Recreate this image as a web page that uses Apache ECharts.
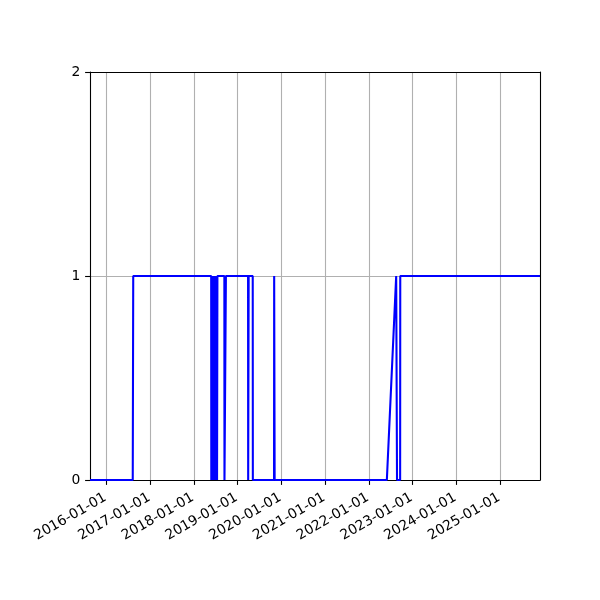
<!DOCTYPE html>
<html><head><meta charset="utf-8">
<script src="https://cdn.jsdelivr.net/npm/echarts@6/dist/echarts.min.js"></script>
<style>html,body{margin:0;padding:0;background:#fff}#c{width:600px;height:600px}</style>
</head><body><div id="c"></div>
<script>
const dates = [
  '2015-08-18','2016-08-09','2016-08-13',
  '2018-05-26','2018-05-27','2018-05-30','2018-06-02','2018-06-05','2018-06-08','2018-06-11','2018-06-14',
  '2018-06-17','2018-06-20','2018-06-23','2018-06-26','2018-06-29','2018-07-02','2018-07-05','2018-07-08',
  '2018-07-11','2018-07-14','2018-07-17','2018-07-20',
  '2018-09-13','2018-09-14','2018-09-25','2018-09-26',
  '2019-03-30','2019-03-31','2019-04-03','2019-04-04',
  '2019-05-08','2019-05-09',
  '2019-11-02','2019-11-03','2019-11-06','2019-11-07',
  '2022-06-01','2022-08-18','2022-08-25','2022-09-20','2022-09-21',
  '2025-12-01'
];
const values = [
  0,0,1,
  1,0,1,0,1,0,1,0,
  1,0,1,0,1,0,1,0,
  1,0,1,1,
  1,0,0,1,
  1,0,0,1,
  1,0,
  0,1,1,0,
  0,1,0,0,1,
  1
];
const tickLabels = ['2016-01-01','2017-01-01','2018-01-01','2019-01-01','2020-01-01',
  '2021-01-01','2022-01-01','2023-01-01','2024-01-01','2025-01-01'];
const yTicks = [0, 1, 2];

function ts(s){ const p = s.split('-').map(Number); return Date.UTC(p[0], p[1]-1, p[2]); }
const seriesData = dates.map((d,i)=>[ts(d), values[i]]);
const tickValues = tickLabels.map(ts);
const xMin = ts(dates[0]), xMax = ts(dates[dates.length-1]);

const font = 'DejaVu Sans';
const black = {color: '#000', width: 1.1};
const chart = echarts.init(document.getElementById('c'), null, {renderer:'canvas'});
chart.setOption({
  animation: false,
  backgroundColor: '#fff',
  grid: {left: 90, right: 60, top: 72, bottom: 120, containLabel: false},
  xAxis: [{
    type: 'value', min: xMin, max: xMax,
    axisLine: {show: true, onZero: false, lineStyle: black},
    axisTick: {show: true, inside: false, length: 4.9, lineStyle: black, customValues: tickValues},
    axisLabel: {show: true, rotate: 30, margin: 16, color: '#000', fontFamily: font, fontSize: 13.9,
      customValues: tickValues, padding: [0, 1, 0, 0], showMinLabel: true, showMaxLabel: true,
      formatter: v => new Date(v).toISOString().slice(0,10)},
    splitLine: {show: true, lineStyle: {color: '#b0b0b0', width: 1.1}}
  }, {
    type: 'value', min: xMin, max: xMax, position: 'top',
    axisLine: {show: true, onZero: false, lineStyle: black},
    axisTick: {show: false}, axisLabel: {show: false}, splitLine: {show: false}, z: 5
  }],
  yAxis: [{
    type: 'value', min: 0, max: 2, interval: 1,
    axisLine: {show: true, onZero: false, lineStyle: black},
    axisTick: {show: true, inside: false, length: 4.9, lineStyle: black},
    axisLabel: {show: true, margin: 9.7, color: '#000', fontFamily: font, fontSize: 13.9,
      formatter: v => yTicks.includes(v) ? String(v) : ''},
    splitLine: {show: true, lineStyle: {color: '#b0b0b0', width: 1.1}}
  }, {
    type: 'value', min: 0, max: 2, interval: 1, position: 'right',
    axisLine: {show: true, onZero: false, lineStyle: black},
    axisTick: {show: false}, axisLabel: {show: false}, splitLine: {show: false}, z: 5
  }],
  series: [{
    type: 'line', data: seriesData, showSymbol: false, symbol: 'none',
    xAxisIndex: 0, yAxisIndex: 0,
    lineStyle: {color: '#0000ff', width: 2.08}, itemStyle: {color: '#0000ff'}, z: 3
  }]
});
</script>
</body></html>
